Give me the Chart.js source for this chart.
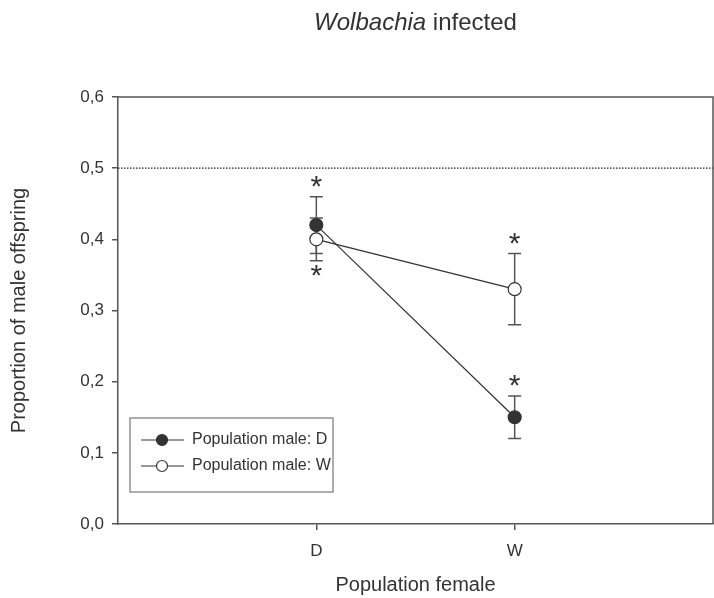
<!DOCTYPE html>
<html lang="en">
<head>
    <meta charset="UTF-8">
    <title>Wolbachia infected</title>
    <script src="https://cdn.jsdelivr.net/npm/chart.js"></script>
    <style>
        body { margin: 0; background: #fff; }
        .chart-container { width: 714px; height: 598px; position: relative; }
    </style>
</head>
<body>
    <div class="chart-container">
        <canvas id="sexRatioChart"></canvas>
    </div>

    <script>
        // Female population categories and their positions on the x axis
        const categories = ['D', 'W'];
        const categoryPos = [1, 2];

        // Proportion of male offspring per male population
        const maleD = [0.42, 0.15];
        const maleDErr = [0.04, 0.03];
        const maleW = [0.40, 0.33];
        const maleWErr = [0.03, 0.05];

        // Significance asterisks (category, y value)
        const starCats = ['D', 'D', 'W', 'W'];
        const starY = [0.48, 0.355, 0.40, 0.20];

        const yTicks = [0, 0.1, 0.2, 0.3, 0.4, 0.5, 0.6];
        const refLine = 0.5;

        const FONT = '"Liberation Sans", Arial, sans-serif';
        const INK = '#333';
        const AXIS = '#555';

        const toPoints = (vals) => vals.map((v, i) => ({ x: categoryPos[i], y: v }));

        // frame, reference line, error bars, asterisks, titles and legend box
        const decorations = {
            id: 'decorations',
            beforeDatasetsDraw(chart) {
                const { ctx, chartArea: a, scales: { x, y } } = chart;
                ctx.save();
                // dotted line at 0.5
                ctx.strokeStyle = '#222';
                ctx.lineWidth = 1.3;
                ctx.setLineDash([1.5, 1.5]);
                ctx.beginPath();
                ctx.moveTo(a.left, y.getPixelForValue(refLine));
                ctx.lineTo(a.right, y.getPixelForValue(refLine));
                ctx.stroke();
                ctx.setLineDash([]);

                // error bars
                ctx.strokeStyle = '#555';
                ctx.lineWidth = 1.5;
                const bars = [[maleD, maleDErr], [maleW, maleWErr]];
                bars.forEach(([vals, errs]) => {
                    vals.forEach((v, i) => {
                        const px = x.getPixelForValue(categoryPos[i]);
                        const top = y.getPixelForValue(v + errs[i]);
                        const bot = y.getPixelForValue(v - errs[i]);
                        ctx.beginPath();
                        ctx.moveTo(px, top); ctx.lineTo(px, bot);
                        ctx.moveTo(px - 6.5, top); ctx.lineTo(px + 6.5, top);
                        ctx.moveTo(px - 6.5, bot); ctx.lineTo(px + 6.5, bot);
                        ctx.stroke();
                    });
                });
                ctx.restore();
            },
            afterDraw(chart) {
                const { ctx, chartArea: a, scales: { x, y } } = chart;
                ctx.save();
                // top and right sides of the frame
                ctx.strokeStyle = AXIS;
                ctx.lineWidth = 1.5;
                ctx.beginPath();
                ctx.moveTo(a.left, a.top);
                ctx.lineTo(a.right, a.top);
                ctx.lineTo(a.right, a.bottom);
                ctx.stroke();

                // asterisks
                ctx.fillStyle = INK;
                ctx.font = '30px ' + FONT;
                ctx.textAlign = 'center';
                ctx.textBaseline = 'middle';
                starCats.forEach((c, i) => {
                    const px = x.getPixelForValue(categoryPos[categories.indexOf(c)]);
                    ctx.fillText('*', px, y.getPixelForValue(starY[i]) + 5);
                });

                // title with italic genus name
                ctx.textBaseline = 'alphabetic';
                ctx.textAlign = 'left';
                const cx = (a.left + a.right) / 2;
                ctx.font = 'italic 24px ' + FONT;
                const w1 = ctx.measureText('Wolbachia').width;
                ctx.font = '24px ' + FONT;
                const w2 = ctx.measureText(' infected').width;
                let tx = cx - (w1 + w2) / 2;
                ctx.font = 'italic 24px ' + FONT;
                ctx.fillText('Wolbachia', tx, 30);
                ctx.font = '24px ' + FONT;
                ctx.fillText(' infected', tx + w1, 30);

                // axis titles
                ctx.textAlign = 'center';
                ctx.font = '20px ' + FONT;
                ctx.fillText('Population female', cx, 591);
                ctx.save();
                ctx.translate(25, (a.top + a.bottom) / 2);
                ctx.rotate(-Math.PI / 2);
                ctx.fillText('Proportion of male offspring', 0, 0);
                ctx.restore();

                // legend box
                const lx = 130, ly = 418, lw = 203, lh = 74;
                ctx.strokeStyle = '#777';
                ctx.lineWidth = 1.2;
                ctx.strokeRect(lx, ly, lw, lh);
                const entries = [
                    { label: 'Population male: D', fill: INK },
                    { label: 'Population male: W', fill: '#fff' }
                ];
                entries.forEach((e, i) => {
                    const ey = 440 + i * 26;
                    ctx.strokeStyle = INK;
                    ctx.lineWidth = 1.2;
                    ctx.beginPath();
                    ctx.moveTo(141, ey); ctx.lineTo(184, ey);
                    ctx.stroke();
                    ctx.beginPath();
                    ctx.arc(162, ey, 5.5, 0, Math.PI * 2);
                    ctx.fillStyle = e.fill;
                    ctx.fill();
                    ctx.stroke();
                    ctx.fillStyle = INK;
                    ctx.font = '16px ' + FONT;
                    ctx.textAlign = 'left';
                    ctx.textBaseline = 'middle';
                    ctx.fillText(e.label, 192, ey);
                });
                ctx.restore();
            }
        };

        const ctx = document.getElementById('sexRatioChart').getContext('2d');
        new Chart(ctx, {
            type: 'line',
            data: {
                datasets: [
                    {
                        label: 'Population male: W',
                        data: toPoints(maleW),
                        borderColor: INK,
                        borderWidth: 1.2,
                        pointRadius: 6.5,
                        pointBackgroundColor: '#fff',
                        pointBorderColor: INK,
                        pointBorderWidth: 1.2
                    },
                    {
                        label: 'Population male: D',
                        data: toPoints(maleD),
                        borderColor: INK,
                        borderWidth: 1.2,
                        pointRadius: 6.5,
                        pointBackgroundColor: INK,
                        pointBorderColor: INK,
                        pointBorderWidth: 1.2
                    }
                ]
            },
            options: {
                responsive: true,
                maintainAspectRatio: false,
                animation: false,
                layout: { autoPadding: false, padding: { top: 97, right: 1, left: 0, bottom: 0 } },
                plugins: {
                    legend: { display: false },
                    tooltip: { enabled: false }
                },
                scales: {
                    x: {
                        type: 'linear',
                        min: 0,
                        max: 3,
                        afterFit: (s) => { s.height = 74; s.paddingLeft = 0; s.paddingRight = 0; },
                        afterBuildTicks: (s) => { s.ticks = categoryPos.map(v => ({ value: v })); },
                        border: { color: AXIS, width: 1.5 },
                        grid: { drawOnChartArea: false, drawTicks: true, tickLength: 6, color: AXIS, lineWidth: 1.5 },
                        ticks: {
                            color: INK,
                            padding: 11,
                            font: { family: FONT, size: 17 },
                            callback: (v) => categories[categoryPos.indexOf(v)] || ''
                        }
                    },
                    y: {
                        min: 0,
                        max: 0.6,
                        afterFit: (s) => { s.width = 118; },
                        afterBuildTicks: (s) => { s.ticks = yTicks.map(v => ({ value: v })); },
                        border: { color: AXIS, width: 1.5 },
                        grid: { drawOnChartArea: false, drawTicks: true, tickLength: 6, color: AXIS, lineWidth: 1.5 },
                        ticks: {
                            color: INK,
                            padding: 8,
                            font: { family: FONT, size: 17 },
                            callback: (v) => v.toFixed(1).replace('.', ',')
                        }
                    }
                }
            },
            plugins: [decorations]
        });
    </script>
</body>
</html>
